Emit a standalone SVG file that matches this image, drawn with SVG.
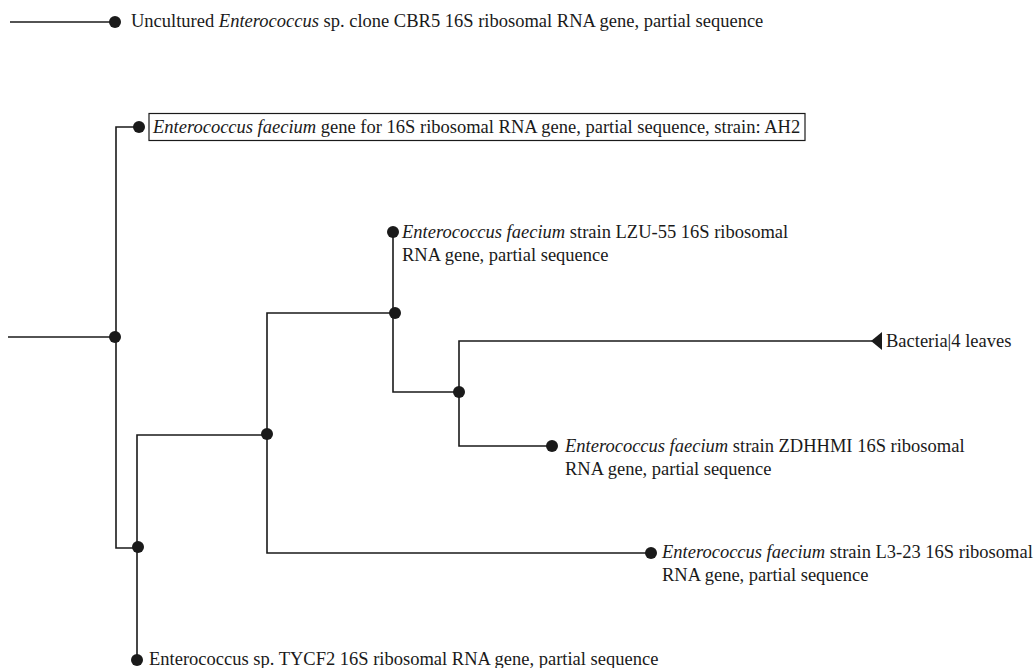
<svg xmlns="http://www.w3.org/2000/svg" width="1035" height="668" viewBox="0 0 1035 668">
<style>
.e{fill:none;stroke:#1a1a1a;stroke-width:1.6}
.d{fill:#1a1a1a}
.t{font-family:"Liberation Serif","DejaVu Serif",serif;font-size:18.5px;fill:#1a1a1a}
</style>
<rect width="1035" height="668" fill="#fff"/>
<g id="connectors">
<path class="e" d="M10 22H115"/>
<path class="e" d="M8 337H115"/>
<path class="e" d="M139 127H116V548H139"/>
<path class="e" d="M137 660V435H267"/>
<path class="e" d="M395 313H267V553H651"/>
<path class="e" d="M393 232V392H459"/>
<path class="e" d="M872 341H459V446H552"/>
</g>
<g id="n_cbr5"><circle class="d" cx="115" cy="22" r="6"/><text class="t" x="131" y="27">Uncultured <tspan font-style="italic">Enterococcus</tspan> sp. clone CBR5 16S ribosomal RNA gene, partial sequence</text></g>
<g id="n_root"><circle class="d" cx="115" cy="337" r="6"/></g>
<g id="n_ah2"><circle class="d" cx="139" cy="127" r="6"/><rect x="149" y="113.5" width="656" height="27" fill="none" stroke="#1a1a1a" stroke-width="1.2"/><text class="t" x="153" y="133"><tspan font-style="italic">Enterococcus faecium</tspan> gene for 16S ribosomal RNA gene, partial sequence, strain: AH2</text></g>
<g id="n_a"><circle class="d" cx="138" cy="547" r="6"/></g>
<g id="n_b"><circle class="d" cx="267" cy="434" r="6"/></g>
<g id="n_c"><circle class="d" cx="395" cy="313" r="6"/></g>
<g id="n_d"><circle class="d" cx="459" cy="392" r="6"/></g>
<g id="n_lzu"><circle class="d" cx="393" cy="232" r="6"/><text class="t" x="402" y="238"><tspan font-style="italic">Enterococcus faecium</tspan> strain LZU-55 16S ribosomal</text><text class="t" x="402" y="261">RNA gene, partial sequence</text></g>
<g id="n_bact"><path class="d" d="M871 341L882 332V350Z"/><text class="t" x="886" y="347">Bacteria|4 leaves</text></g>
<g id="n_zdh"><circle class="d" cx="552" cy="446" r="6"/><text class="t" x="565" y="452"><tspan font-style="italic">Enterococcus faecium</tspan> strain ZDHHMI 16S ribosomal</text><text class="t" x="565" y="475">RNA gene, partial sequence</text></g>
<g id="n_l323"><circle class="d" cx="651" cy="553" r="6"/><text class="t" x="662" y="558"><tspan font-style="italic">Enterococcus faecium</tspan> strain L3-23 16S ribosomal</text><text class="t" x="662" y="581">RNA gene, partial sequence</text></g>
<g id="n_tycf2"><circle class="d" cx="137" cy="660" r="6"/><text class="t" x="149" y="665">Enterococcus sp. TYCF2 16S ribosomal RNA gene, partial sequence</text></g>
</svg>
